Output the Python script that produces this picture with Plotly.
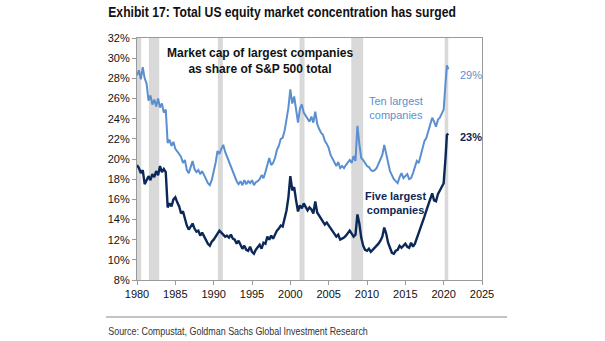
import plotly.graph_objects as go

# Quarterly observation dates (plus the 2020 run-up)
dates = [y + q / 4 for y in range(1980, 2020) for q in range(4)] + [2020.0, 2020.25, 2020.42, 2020.62]

# Market cap of the ten largest companies, % of S&P 500 total
ten_largest = [
    28.3, 28.8, 27.9, 29.1,
    28.0, 27.5, 25.8, 26.3,
    25.4, 25.9, 25.2, 26.0,
    25.1, 25.5, 24.6, 24.9,
    21.6, 21.9, 21.3, 21.7,
    21.0, 20.8, 20.5, 20.2,
    19.6, 19.9, 18.9, 18.6,
    19.1, 19.8, 19.0, 18.7,
    18.9, 18.5, 18.8, 18.3,
    18.0, 17.6, 17.4, 17.9,
    18.7, 19.6, 20.8, 20.5,
    21.0, 21.4, 20.7, 20.2,
    19.7, 19.3, 18.7, 18.2,
    17.8, 17.5, 17.8, 17.4,
    17.9, 17.5, 17.8, 17.6,
    17.9, 17.4, 17.7, 17.8,
    18.0, 18.4, 18.1, 18.7,
    19.3, 20.1, 19.4, 19.6,
    20.1, 20.9, 21.3, 22.0,
    22.1, 22.8, 23.9, 25.1,
    26.9, 25.5, 26.2, 24.7,
    23.6, 25.0, 25.4, 24.6,
    24.3, 23.9, 23.7, 24.2,
    23.6, 24.7, 23.5, 23.0,
    22.6, 22.4, 21.8, 21.5,
    21.1, 20.4, 20.0, 19.6,
    19.3, 19.7, 19.1, 19.3,
    19.1, 19.4, 19.6, 19.9,
    19.6, 20.3, 19.8, 23.3,
    21.5, 20.1, 19.9, 19.6,
    19.3, 19.2, 18.9, 18.8,
    18.9, 19.1, 19.5, 19.9,
    20.4, 21.4, 20.6, 19.6,
    18.8, 18.4, 18.0, 17.8,
    17.6, 18.2, 18.6, 18.1,
    18.3, 18.5, 18.0, 18.1,
    18.6, 19.1, 19.8, 19.6,
    20.3, 21.0, 21.8, 22.1,
    22.8, 23.6, 24.1, 23.7,
    23.2, 23.9, 24.1, 24.5,
    24.9, 27.6, 29.3, 28.9,
]

# Market cap of the five largest companies, % of S&P 500 total
five_largest = [
    19.4, 19.1, 18.6, 18.9,
    17.5, 17.9, 18.3, 17.9,
    18.5, 18.2, 18.8, 18.4,
    19.3, 18.7, 19.0, 18.7,
    15.2, 15.6, 15.3, 16.0,
    16.2, 15.7, 15.3, 14.6,
    14.8, 14.1, 13.4, 13.0,
    13.3, 13.6, 13.1, 12.8,
    12.9, 12.4, 12.7, 12.3,
    11.9, 11.6, 11.4, 11.8,
    12.0, 12.3, 12.6, 12.9,
    12.7, 12.5, 12.3, 12.4,
    12.2, 12.5, 12.1, 12.0,
    11.6, 11.9, 11.5, 11.1,
    11.4, 11.0, 10.9, 11.3,
    10.8, 10.6, 11.0, 11.2,
    11.5, 11.1, 11.7, 11.6,
    12.3, 12.0, 12.4, 12.1,
    12.6, 12.9, 13.1, 13.4,
    13.3, 14.0, 14.9, 16.2,
    18.3, 16.9, 17.2, 15.9,
    14.8, 15.4, 15.1, 15.6,
    15.3, 14.9, 15.2, 15.0,
    14.6, 15.8, 14.7, 14.4,
    14.1, 13.9, 13.5, 13.7,
    13.4, 13.1, 12.8, 12.6,
    12.3, 12.5, 12.0, 12.1,
    12.2, 12.4, 12.6, 12.9,
    12.6, 12.3, 12.5, 14.5,
    13.6, 12.2, 11.4, 11.0,
    10.9, 11.1, 10.8, 11.0,
    11.2, 11.3, 11.6, 11.9,
    12.3, 13.2, 12.6, 11.7,
    11.1, 10.7, 10.6, 10.9,
    11.0, 11.4, 11.2, 11.4,
    11.6, 11.3, 11.2, 11.7,
    11.3, 11.6, 12.1, 12.7,
    13.2, 13.6, 14.3, 14.9,
    15.4, 16.0, 16.6, 15.9,
    15.8, 16.5, 16.9, 17.2,
    17.6, 20.2, 22.4, 22.5,
]

# Recession periods (start, end) in decimal years
recessions = [(1980.0, 1980.55), (1981.55, 1982.9), (1990.55, 1991.2),
              (2001.2, 2001.85), (2007.95, 2009.5), (2020.13, 2020.6)]

x_ticks = [1980, 1985, 1990, 1995, 2000, 2005, 2010, 2015, 2020, 2025]
y_ticks = [8, 10, 12, 14, 16, 18, 20, 22, 24, 26, 28, 30, 32]
y_tick_labels = [f"{v}%" for v in y_ticks]

LIGHT = "#5b8fd0"
NAVY = "#0c2859"
SANS = "Liberation Sans, Arial, sans-serif"

W, H = 605, 341
L, R, T, B = 137, 482, 38, 280  # plot area in pixels


def px(x):
    return (x - L) / (R - L)


def py(y):
    return (B - y) / (B - T)


fig = go.Figure()

fig.add_trace(go.Scatter(x=dates, y=ten_largest, mode="lines",
                         line=dict(color=LIGHT, width=2), hoverinfo="skip"))
fig.add_trace(go.Scatter(x=dates, y=five_largest, mode="lines",
                         line=dict(color=NAVY, width=2.4), hoverinfo="skip"))

shapes = []
for a, b in recessions:
    shapes.append(dict(type="rect", xref="x", yref="paper", x0=a, x1=b, y0=0, y1=1,
                       fillcolor="#d9d9d9", line=dict(width=0), layer="below"))
# rule above the source note
shapes.append(dict(type="line", xref="paper", yref="paper",
                   x0=px(106), x1=px(507), y0=py(317), y1=py(317),
                   line=dict(color="#8a8a8a", width=1.2)))

annotations = [
    dict(text="<b>Exhibit 17: Total US equity market concentration has surged</b>",
         x=px(106), y=py(12), xanchor="left", yanchor="middle",
         font=dict(family=SANS, size=15, color="#111111")),
    dict(text="Source: Compustat, Goldman Sachs Global Investment Research",
         x=px(106), y=py(331), xanchor="left", yanchor="middle",
         font=dict(family=SANS, size=11, color="#333333")),
    dict(text="<b>Market cap of largest companies<br>as share of S&P 500 total</b>",
         x=px(260), y=py(61), xanchor="center", yanchor="middle",
         font=dict(family=SANS, size=12, color="#111111")),
    dict(text="Ten largest<br>companies", x=px(396), y=py(108),
         xanchor="center", yanchor="middle",
         font=dict(family=SANS, size=11, color=LIGHT)),
    dict(text="<b>Five largest<br>companies</b>", x=px(395), y=py(203),
         xanchor="center", yanchor="middle",
         font=dict(family=SANS, size=11, color=NAVY)),
    dict(text="29%", x=px(458), y=py(75), xanchor="left", yanchor="middle",
         font=dict(family=SANS, size=11, color=LIGHT)),
    dict(text="<b>23%</b>", x=px(458), y=py(137), xanchor="left", yanchor="middle",
         font=dict(family=SANS, size=11, color=NAVY)),
]
for a in annotations:
    a.update(xref="paper", yref="paper", showarrow=False, align="center")

fig.update_layout(
    width=W, height=H,
    margin=dict(l=L, r=W - R, t=T, b=H - B, pad=0),
    paper_bgcolor="white", plot_bgcolor="white",
    showlegend=False,
    shapes=shapes, annotations=annotations,
    xaxis=dict(range=[1980, 2025], tickvals=x_ticks, ticktext=[str(t) for t in x_ticks],
               showgrid=False, zeroline=False, showline=True, mirror=True,
               linecolor="#9a9a9a", linewidth=1.2, ticks="outside", ticklen=4,
               tickcolor="#9a9a9a", tickfont=dict(family=SANS, size=11, color="#111111")),
    yaxis=dict(range=[8, 32], tickvals=y_ticks, ticktext=y_tick_labels,
               showgrid=False, zeroline=False, showline=True, mirror=True,
               linecolor="#9a9a9a", linewidth=1.2, ticks="outside", ticklen=4,
               tickcolor="#9a9a9a", tickfont=dict(family=SANS, size=11, color="#111111")),
)

# Set the heading and the source note in a condensed face: squeeze each text
# horizontally (anchored at its left edge) to its column width.
condense_js = """
(function () {
  var gd = document.getElementById('{plot_id}');
  var widths = {0: 348, 1: 260};
  function condense() {
    Object.keys(widths).forEach(function (i) {
      var t = gd.querySelector('g.annotation[data-index="' + i + '"] text.annotation-text');
      if (!t) return;
      t.style.transform = 'none';
      var w = t.getBBox().width;
      if (!w) return;
      t.style.transformBox = 'fill-box';
      t.style.transformOrigin = 'left center';
      t.style.transform = 'scaleX(' + (widths[i] / w) + ')';
    });
  }
  condense();
  if (gd.on) gd.on('plotly_afterplot', condense);
})();
"""

fig.write_html("out.html", post_script=condense_js)
